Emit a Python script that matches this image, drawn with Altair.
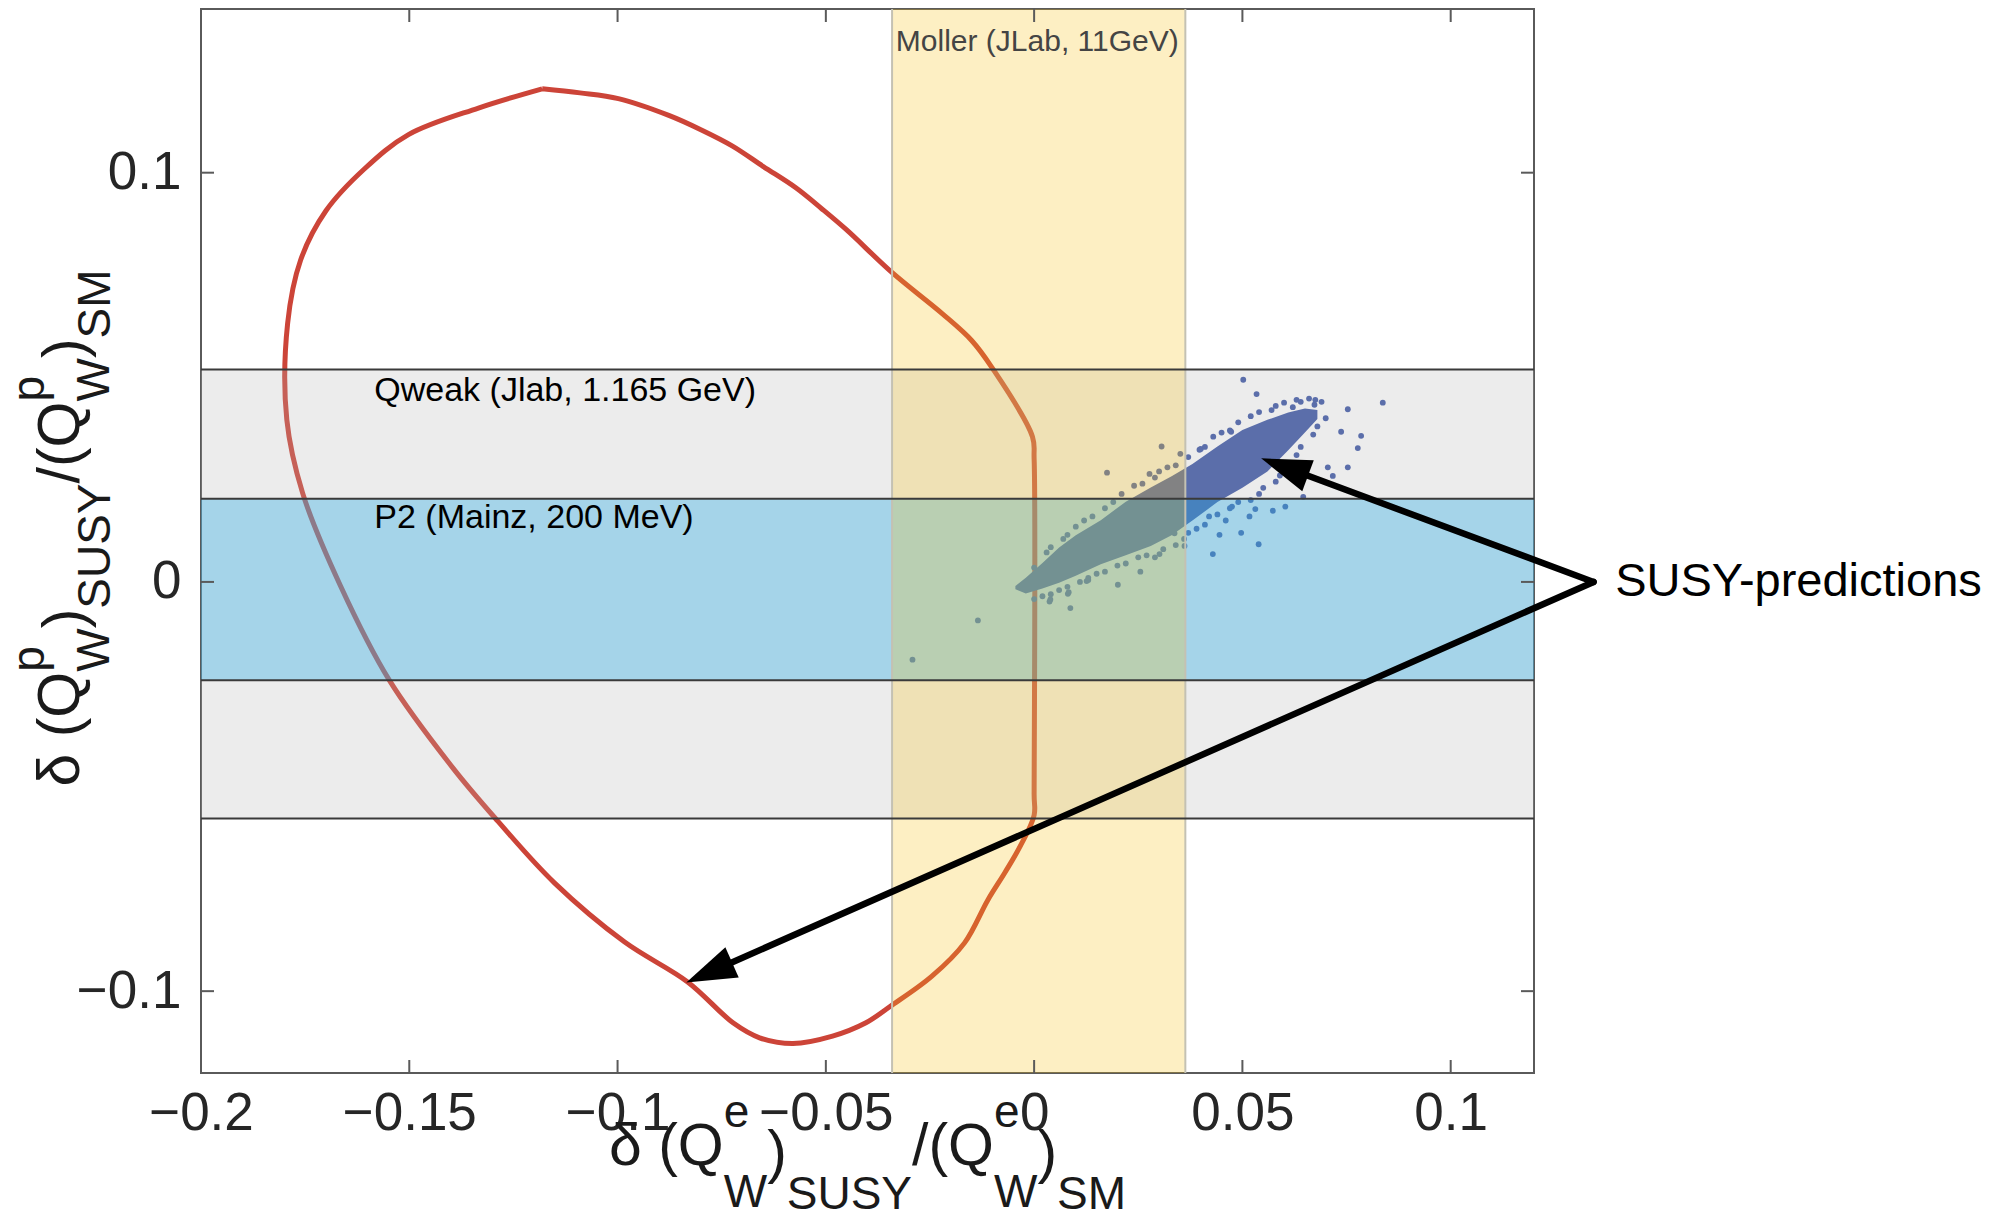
import math
import altair as alt
import pandas as pd

# ---------------- data ----------------
X_DOMAIN = [-0.2, 0.12]
Y_DOMAIN = [-0.12, 0.14]
X_TICKS = [-0.2, -0.15, -0.1, -0.05, 0.0, 0.05, 0.1]
Y_TICKS = [-0.1, 0.0, 0.1]

QWEAK_RANGE = [-0.0578, 0.0519]
P2_RANGE = [-0.0240, 0.0203]
MOLLER_RANGE = [-0.0341, 0.0363]
BAND_EDGES_Y = [0.0519, 0.0203, -0.0240, -0.0578]

contour_x = [-0.1181, -0.1090, -0.0998, -0.0877, -0.0800, -0.0724, -0.0650, -0.0572, -0.0510, -0.0450,
             -0.0340, -0.0220, -0.0150, -0.0102, -0.0004, 0.0000, 0.0000, 0.0000, -0.0034, -0.0070,
             -0.0111, -0.0167, -0.0246, -0.0345, -0.0405, -0.0484, -0.0579, -0.0659, -0.0722, -0.0831,
             -0.0983, -0.1151, -0.1288, -0.1395, -0.1548, -0.1665, -0.1756, -0.1794, -0.1792, -0.1761,
             -0.1700, -0.1608, -0.1502, -0.1334, -0.1181]
contour_y = [0.1205, 0.1195, 0.1181, 0.1140, 0.1105, 0.1065, 0.1015, 0.0963, 0.0912, 0.0860,
             0.0755, 0.0655, 0.0590, 0.0525, 0.0355, 0.0300, -0.0520, -0.0570, -0.0647, -0.0710,
             -0.0777, -0.0882, -0.0964, -0.1037, -0.1078, -0.1110, -0.1128, -0.1114, -0.1078, -0.0978,
             -0.0880, -0.0736, -0.0584, -0.0455, -0.0240, -0.0010, 0.0217, 0.0396, 0.0632, 0.0786,
             0.0907, 0.1009, 0.1093, 0.1158, 0.1205]

# dense core of the SUSY scan (lower / upper envelope)
core_x = [-0.0045, -0.0020, 0.0020, 0.0060, 0.0100, 0.0160, 0.0220, 0.0280, 0.0330, 0.0380,
          0.0440, 0.0500, 0.0560, 0.0610, 0.0650, 0.0680]
core_lo = [-0.0018, -0.0028, -0.0016, -0.0002, 0.0015, 0.0043, 0.0065, 0.0088, 0.0114, 0.0150,
           0.0195, 0.0230, 0.0270, 0.0322, 0.0365, 0.0398]
core_hi = [-0.0010, 0.0010, 0.0046, 0.0084, 0.0114, 0.0151, 0.0196, 0.0231, 0.0258, 0.0288,
           0.0331, 0.0371, 0.0396, 0.0414, 0.0424, 0.0420]

# individual scan points (outliers and fringe)
pts_x = [0.0502, 0.0534, 0.0837, 0.0753, 0.0785, 0.0777, 0.0737, 0.0753, 0.0705, 0.0717,
         0.0646, 0.0603, 0.0573, 0.0539, 0.0497, 0.0429, 0.0445, 0.0517, 0.0531, 0.0475,
         0.0306, 0.0351, 0.0175, 0.0277, 0.0397, 0.0473, 0.0361, 0.0337, 0.0301, 0.0255,
         0.0201, 0.0126, 0.0081, 0.0087, 0.0037, 0.0621, 0.0673, -0.0135, -0.0292, 0.0039,
         0.0083, 0.0130,
         0.0040, 0.0080, 0.0120, 0.0190, 0.0240, 0.0300, 0.0340, 0.0400, 0.0450, 0.0520,
         0.0580, 0.0630, 0.0660, 0.0690,
         0.0020, 0.0060, 0.0110, 0.0150, 0.0200, 0.0250, 0.0310, 0.0360, 0.0390, 0.0420,
         0.0470, 0.0550, 0.0590, 0.0630, 0.0670, 0.0700,
         0.0000, 0.0030, 0.0070, 0.0100, 0.0140, 0.0170, 0.0210, 0.0260, 0.0290, 0.0320,
         0.0370, 0.0410, 0.0430, 0.0470, 0.0490, 0.0540, 0.0570, 0.0600, 0.0640, 0.0675,
         0.0000, 0.0040, 0.0080, 0.0130, 0.0170, 0.0220, 0.0270, 0.0290, 0.0340, 0.0370,
         0.0410, 0.0440, 0.0460, 0.0490, 0.0520, 0.0540, 0.0580, 0.0610, 0.0640, 0.0680]
pts_y = [0.0494, 0.0459, 0.0438, 0.0422, 0.0357, 0.0327, 0.0367, 0.0280, 0.0280, 0.0259,
         0.0208, 0.0184, 0.0174, 0.0092, 0.0120, 0.0068, 0.0115, 0.0160, 0.0178, 0.0184,
         0.0331, 0.0313, 0.0267, 0.0264, 0.0323, 0.0367, 0.0088, 0.0119, 0.0068, 0.0025,
         -0.0007, 0.0002, -0.0029, -0.0064, -0.0048, 0.0427, 0.0433, -0.0094, -0.0190, -0.0043,
         -0.0025, 0.0005,
         0.0085, 0.0115, 0.0150, 0.0195, 0.0235, 0.0270, 0.0285, 0.0325, 0.0365, 0.0405,
         0.0430, 0.0445, 0.0448, 0.0440,
         -0.0035, -0.0020, 0.0000, 0.0020, 0.0040, 0.0060, 0.0080, 0.0105, 0.0130, 0.0160,
         0.0180, 0.0230, 0.0260, 0.0310, 0.0360, 0.0400,
         0.0035, 0.0072, 0.0105, 0.0135, 0.0160, 0.0180, 0.0215, 0.0240, 0.0255, 0.0280,
         0.0305, 0.0330, 0.0355, 0.0370, 0.0390, 0.0415, 0.0420, 0.0438, 0.0440, 0.0445,
         -0.0042, -0.0030, -0.0012, 0.0010, 0.0025, 0.0045, 0.0065, 0.0060, 0.0090, 0.0120,
         0.0140, 0.0165, 0.0150, 0.0195, 0.0200, 0.0215, 0.0245, 0.0285, 0.0330, 0.0380]

ARROW_FROM = [0.1343, 0.0]
ARROW_TIP_X = [0.0545, -0.0835]
ARROW_TIP_Y = [0.0302, -0.0979]

# ---------------- geometry / style ----------------
W, H = 1333, 1064
LEFT, TOP = 201, 9
PAD = {"left": LEFT, "top": TOP, "right": 2008 - LEFT - W, "bottom": 1218 - TOP - H}
FONT = "Liberation Sans, Arial, Helvetica, sans-serif"

xs = alt.Scale(domain=X_DOMAIN, nice=False, zero=False)
ys = alt.Scale(domain=Y_DOMAIN, nice=False, zero=False)
AXX = alt.Axis(values=X_TICKS, format=".2~f", labelFontSize=53, labelFont=FONT, labelColor="#262626",
               ticks=False, domain=False, grid=False, labelPadding=14, labelFlush=False,
               labelOverlap=False, title="")
AXY = alt.Axis(values=Y_TICKS, format=".1~f", labelFontSize=53, labelFont=FONT, labelColor="#262626",
               ticks=False, domain=False, grid=False, labelPadding=20, labelFlush=False,
               labelOverlap=False, title="")


def X(f):
    return alt.X(f, type="quantitative", scale=xs, axis=AXX)


def Y(f):
    return alt.Y(f, type="quantitative", scale=ys, axis=AXY)


layers = []

# red contour
contour_df = pd.DataFrame({"x": contour_x, "y": contour_y, "i": list(range(len(contour_x)))})
layers.append(alt.Chart(contour_df)
              .mark_line(color="#cc4438", strokeWidth=5, strokeJoin="round", interpolate="catmull-rom")
              .encode(x=X("x"), y=Y("y"), order="i:Q"))

# Qweak band (grey)
layers.append(alt.Chart(pd.DataFrame({"y": [QWEAK_RANGE[0]], "y2": [QWEAK_RANGE[1]]}))
              .mark_rect(color="#b3b3b3", opacity=0.25)
              .encode(x=alt.value(0), x2=alt.value(W), y=Y("y"), y2=alt.Y2("y2")))

# SUSY predictions
PT_COLOR = "#5b6eaa"
core_df = pd.DataFrame({"x": core_x, "lo": core_lo, "hi": core_hi})
layers.append(alt.Chart(core_df).mark_area(color=PT_COLOR, opacity=1)
              .encode(x=X("x"), y=Y("lo"), y2=alt.Y2("hi")))
pts_df = pd.DataFrame({"x": pts_x, "y": pts_y})
layers.append(alt.Chart(pts_df).mark_circle(color=PT_COLOR, size=34, opacity=1)
              .encode(x=X("x"), y=Y("y")))

# P2 band (blue)
layers.append(alt.Chart(pd.DataFrame({"y": [P2_RANGE[0]], "y2": [P2_RANGE[1]]}))
              .mark_rect(color="#21aae6", opacity=0.35)
              .encode(x=alt.value(0), x2=alt.value(W), y=Y("y"), y2=alt.Y2("y2")))

# Moller band (yellow)
layers.append(alt.Chart(pd.DataFrame({"x": [MOLLER_RANGE[0]], "x2": [MOLLER_RANGE[1]]}))
              .mark_rect(color="#f7bf0f", opacity=0.25)
              .encode(x=X("x"), x2=alt.X2("x2"), y=alt.value(0), y2=alt.value(H)))
layers.append(alt.Chart(pd.DataFrame({"x": MOLLER_RANGE}))
              .mark_rule(color="#c4c1b3", strokeWidth=2)
              .encode(x=X("x"), y=alt.value(0), y2=alt.value(H)))

# band edges
layers.append(alt.Chart(pd.DataFrame({"y": BAND_EDGES_Y}))
              .mark_rule(color="#3a3a3a", strokeWidth=2)
              .encode(y=Y("y"), x=alt.value(0), x2=alt.value(W)))

# inward ticks on all four sides
TICK = 13
tx_df = pd.DataFrame({"x": X_TICKS})
ty_df = pd.DataFrame({"y": Y_TICKS})
for y0, y1 in [(H, H - TICK), (0, TICK)]:
    layers.append(alt.Chart(tx_df).mark_rule(color="#5a5a5a", strokeWidth=2)
                  .encode(x=X("x"), y=alt.value(y0), y2=alt.value(y1)))
for x0, x1 in [(0, TICK), (W - TICK, W)]:
    layers.append(alt.Chart(ty_df).mark_rule(color="#5a5a5a", strokeWidth=2)
                  .encode(y=Y("y"), x=alt.value(x0), x2=alt.value(x1)))

# band labels
band_labels = [
    ("Moller (JLab, 11GeV)", -0.0332, 0.1320, 30, "#444444"),
    ("Qweak (Jlab, 1.165 GeV)", -0.1584, 0.0467, 34, "#000000"),
    ("P2 (Mainz, 200 MeV)", -0.1584, 0.0155, 34, "#000000"),
]
for txt, lx, ly, fs, col in band_labels:
    layers.append(alt.Chart(pd.DataFrame({"x": [lx], "y": [ly], "t": [txt]}))
                  .mark_text(align="left", baseline="middle", fontSize=fs, font=FONT, color=col)
                  .encode(x=X("x"), y=Y("y"), text="t:N"))

# arrows
sx = W / (X_DOMAIN[1] - X_DOMAIN[0])
sy = H / (Y_DOMAIN[1] - Y_DOMAIN[0])
HEAD = 50
for tx, ty in zip(ARROW_TIP_X, ARROW_TIP_Y):
    dx = (tx - ARROW_FROM[0]) * sx
    dy = -(ty - ARROW_FROM[1]) * sy
    L = math.hypot(dx, dy)
    ux, uy = dx / L, dy / L
    ex = tx - 0.5 * HEAD * ux / sx
    ey = ty + 0.5 * HEAD * uy / sy
    ang = math.degrees(math.atan2(ux, -uy)) % 360
    layers.append(alt.Chart(pd.DataFrame({"x": [ARROW_FROM[0]], "y": [ARROW_FROM[1]], "x2": [ex], "y2": [ey]}))
                  .mark_rule(color="black", strokeWidth=6.5, strokeCap="round")
                  .encode(x=X("x"), y=Y("y"), x2=alt.X2("x2"), y2=alt.Y2("y2")))
    layers.append(alt.Chart(pd.DataFrame({"x": [tx], "y": [ty]}))
                  .mark_point(shape="M0,0L0.66,2L-0.66,2Z", size=HEAD * HEAD, filled=True,
                              color="black", opacity=1, strokeWidth=0, angle=ang)
                  .encode(x=X("x"), y=Y("y")))

layers.append(alt.Chart(pd.DataFrame({"x": [0.1395], "y": [0.0], "t": ["SUSY-predictions"]}))
              .mark_text(align="left", baseline="middle", fontSize=47, font=FONT, color="black")
              .encode(x=X("x"), y=Y("y"), text="t:N"))

# axis titles with super/subscripts
W_EM = {"δ": 0.556, " ": 0.278, "(": 0.333, ")": 0.333, "Q": 0.778, "e": 0.556, "p": 0.556,
        "W": 0.944, "S": 0.667, "U": 0.722, "Y": 0.667, "M": 0.833, "/": 0.278}
F_MAIN, F_SUB = 59, 46


def layout(pieces, offs):
    out, cur, sup_w = [], 0.0, 0.0
    for txt, kind in pieces:
        size = F_MAIN if kind in ("n", "close") else F_SUB
        w = sum(W_EM.get(c, 0.6) for c in txt) * size
        out.append((txt, cur, offs[kind], size))
        if kind == "sup":
            sup_w = w
        elif kind == "sub":
            cur += max(w, sup_w)
            sup_w = 0.0
        else:
            cur += w
    return out, cur


def title_pieces(sup):
    return [("δ (Q", "n"), (sup, "sup"), ("W", "sub"), (")", "close"), ("SUSY", "low"),
            ("/(Q", "n"), (sup, "sup"), ("W", "sub"), (")", "close"), ("SM", "low")]


X_OFFS = {"n": 0, "close": 7, "sup": -38, "sub": 42, "low": 44}
Y_OFFS = {"n": 0, "close": 5, "sup": -35, "sub": 30, "low": 31}

xt, xtot = layout(title_pieces("e"), X_OFFS)
x_start = W / 2 - xtot / 2
x_base = 1165 - TOP
for txt, along, off, size in xt:
    layers.append(alt.Chart(pd.DataFrame({"t": [txt]}))
                  .mark_text(align="left", baseline="alphabetic", fontSize=size, font=FONT, color="#1a1a1a")
                  .encode(x=alt.value(x_start + along), y=alt.value(x_base + off), text="t:N"))

yt, ytot = layout(title_pieces("p"), Y_OFFS)
y_start = (528 - TOP) + ytot / 2
y_base = 79 - LEFT
for txt, along, off, size in yt:
    layers.append(alt.Chart(pd.DataFrame({"t": [txt]}))
                  .mark_text(align="left", baseline="alphabetic", fontSize=size, font=FONT,
                             color="#1a1a1a", angle=270)
                  .encode(x=alt.value(y_base + off), y=alt.value(y_start - along), text="t:N"))

chart = (alt.layer(*layers)
         .properties(width=W, height=H, padding=PAD, background="white",
                     autosize=alt.AutoSizeParams(type="none"))
         .configure_view(stroke="#5a5a5a", strokeWidth=2))

chart.save("out.html", embed_options={"renderer": "svg", "actions": False})
